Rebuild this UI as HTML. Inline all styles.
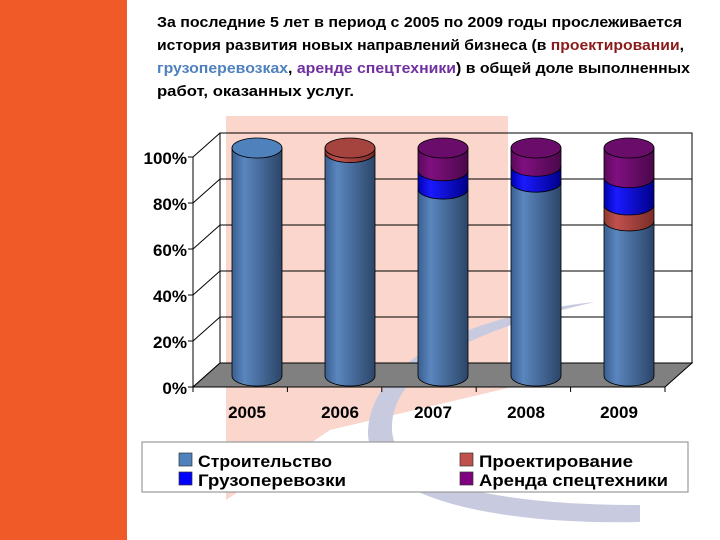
<!DOCTYPE html>
<html><head><meta charset="utf-8"><style>
html,body{margin:0;padding:0;background:#fff;}
svg{display:block;font-family:"Liberation Sans","Noto Sans CJK SC",sans-serif;}
</style></head><body>
<svg id="chart" width="720" height="540" viewBox="0 0 720 540">
<defs>
<linearGradient id="gSteel" x1="0" x2="1"><stop offset="0" stop-color="#3a5f8f"/><stop offset="0.25" stop-color="#5a86bf"/><stop offset="1" stop-color="#2c4568"/></linearGradient>
<linearGradient id="gRed" x1="0" x2="1"><stop offset="0" stop-color="#8e3a32"/><stop offset="0.25" stop-color="#c0504d"/><stop offset="1" stop-color="#7a2d28"/></linearGradient>
<linearGradient id="gBlue" x1="0" x2="1"><stop offset="0" stop-color="#0000b0"/><stop offset="0.25" stop-color="#1a1aff"/><stop offset="1" stop-color="#00008a"/></linearGradient>
<linearGradient id="gPurple" x1="0" x2="1"><stop offset="0" stop-color="#5a0a5a"/><stop offset="0.25" stop-color="#800f80"/><stop offset="1" stop-color="#4a084a"/></linearGradient>
</defs>
<rect x="0" y="0" width="127" height="540" fill="#f05a28"/>
<path d="M 226 116 L 508 116 L 508 388 L 330 430 L 226 500 Z" fill="#f9cfc3" opacity="0.85"/>
<path d="M 595 302 C 470 330, 390 370, 392 430 C 395 490, 520 505, 640 505 L 640 522 C 500 525, 365 500, 368 430 C 372 360, 470 315, 595 302 Z" fill="#c8cbe0"/>
<g id="plot"></g>
<g font-size="14.5" font-weight="bold" fill="#000">
<text x="157" y="27" textLength="525" lengthAdjust="spacingAndGlyphs">За последние  5  лет в период с 2005 по 2009 годы прослеживается</text>
<text x="157" y="50" textLength="527" lengthAdjust="spacingAndGlyphs">история развития новых направлений бизнеса (в <tspan fill="#8b1a1a">проектировании</tspan>,</text>
<text x="157" y="73" textLength="533" lengthAdjust="spacingAndGlyphs"><tspan fill="#4f81bd">грузоперевозках</tspan>, <tspan fill="#7030a0">аренде спецтехники</tspan>) в общей доле выполненных</text>
<text x="157" y="96" textLength="197" lengthAdjust="spacingAndGlyphs">работ, оказанных услуг.</text>
</g>
<g>
<rect x="142" y="442" width="546" height="50" fill="#fff" stroke="#999" stroke-width="1.2"/>
<rect x="179" y="453" width="13" height="13" fill="#4f81bd" stroke="#333" stroke-width="0.7"/>
<text x="198" y="467" font-size="17" font-weight="bold" textLength="134" lengthAdjust="spacingAndGlyphs">Строительство</text>
<rect x="179" y="472" width="13" height="13" fill="#0000ff" stroke="#333" stroke-width="0.7"/>
<text x="198" y="486" font-size="17" font-weight="bold" textLength="148" lengthAdjust="spacingAndGlyphs">Грузоперевозки</text>
<rect x="460" y="453" width="13" height="13" fill="#c0504d" stroke="#333" stroke-width="0.7"/>
<text x="479" y="467" font-size="17" font-weight="bold" textLength="154" lengthAdjust="spacingAndGlyphs">Проектирование</text>
<rect x="460" y="472" width="13" height="13" fill="#800080" stroke="#333" stroke-width="0.7"/>
<text x="479" y="486" font-size="17" font-weight="bold" textLength="189" lengthAdjust="spacingAndGlyphs">Аренда спецтехники</text>
</g>
</svg>
<script>
const categories = ["2005","2006","2007","2008","2009"];
const construction = [100, 98, 82, 85, 68];
const design = [0, 2, 0, 0, 7];
const cargo = [0, 0, 8, 7, 12];
const rental = [0, 0, 10, 8, 13];
const yTicks = [0, 20, 40, 60, 80, 100];
const yTickLabels = ["0%","20%","40%","60%","80%","100%"];

const NS = "http://www.w3.org/2000/svg";
const plot = document.getElementById("plot");
function mk(tag, attrs){const e=document.createElementNS(NS,tag);for(const k in attrs)e.setAttribute(k,attrs[k]);plot.appendChild(e);return e;}
const fx0=193, fx1=665, fy0=387, fy100=157;
const dx=27, dy=-24;
function yFront(v){return fy0-(fy0-fy100)*v/100;}
const baseY=376, topY=148;
function yBar(v){return baseY-(baseY-topY)*v/100;}
function xCat(i){return 257+i*93;}

let e=mk("rect",{x:fx0+dx,y:yFront(100)+dy,width:fx1-fx0,height:fy0-yFront(100),fill:"none",stroke:"#000","stroke-width":1});


yTicks.forEach((t,i)=>{
  const y=yFront(t);
  const g=mk("line",{x1:fx0+dx,y1:y+dy,x2:fx1+dx,y2:y+dy,stroke:"#000","stroke-width":1});
  
  
  const d=mk("line",{x1:fx0,y1:y,x2:fx0+dx,y2:y+dy,stroke:"#000","stroke-width":1});
  
  
  const tk=mk("line",{x1:fx0-5,y1:y,x2:fx0,y2:y,stroke:"#000"});
  
  
  const lb=mk("text",{x:fx0-6,y:y+7,"text-anchor":"end","font-size":"17","font-weight":"bold",fill:"#000"});
  lb.textContent=yTickLabels[i];
  
  
});
e=mk("polygon",{points:`${fx0},${fy0} ${fx1},${fy0} ${fx1+dx},${fy0+dy} ${fx0+dx},${fy0+dy}`,fill:"#808080",stroke:"#000","stroke-width":1});


e=mk("line",{x1:fx0,y1:fy0,x2:fx0,y2:fy100,stroke:"#000"});


e=mk("line",{x1:fx0,y1:fy0,x2:fx1,y2:fy0,stroke:"#000"});


for(let i=0;i<=categories.length;i++){
  const x=fx0+(fx1-fx0)*i/categories.length;
  const t=mk("line",{x1:x,y1:fy0,x2:x,y2:fy0+5,stroke:"#000"});
  
  
}
categories.forEach((c,i)=>{
  const t=mk("text",{x:xCat(i)-10,y:418,"text-anchor":"middle","font-size":"17","font-weight":"bold",fill:"#000"});
  t.textContent=c;
  
  
});
const rx=25, ry=10;
const series=[[construction,"url(#gSteel)","#4f81bd","construction"],[design,"url(#gRed)","#a5433f","design"],[cargo,"url(#gBlue)","#0000e0","cargo"],[rental,"url(#gPurple)","#6a0d6a","rental"]];
categories.forEach((c,i)=>{
  const cx=xCat(i); let acc=0; let last=null;
  series.forEach(s=>{
    const v=s[0][i]; if(!v) return;
    const yb=yBar(acc), yt=yBar(acc+v);
    const p=mk("path",{d:`M ${cx-rx} ${yt} L ${cx-rx} ${yb} A ${rx} ${ry} 0 0 0 ${cx+rx} ${yb} L ${cx+rx} ${yt} Z`,fill:s[1],stroke:"#000","stroke-width":0.8});
    
    
    acc+=v; last=s;
  });
  const cap=mk("ellipse",{cx:cx,cy:yBar(acc),rx:rx,ry:ry,fill:last[2],stroke:"#000","stroke-width":0.8});
  
  
});
</script>
</body></html>
